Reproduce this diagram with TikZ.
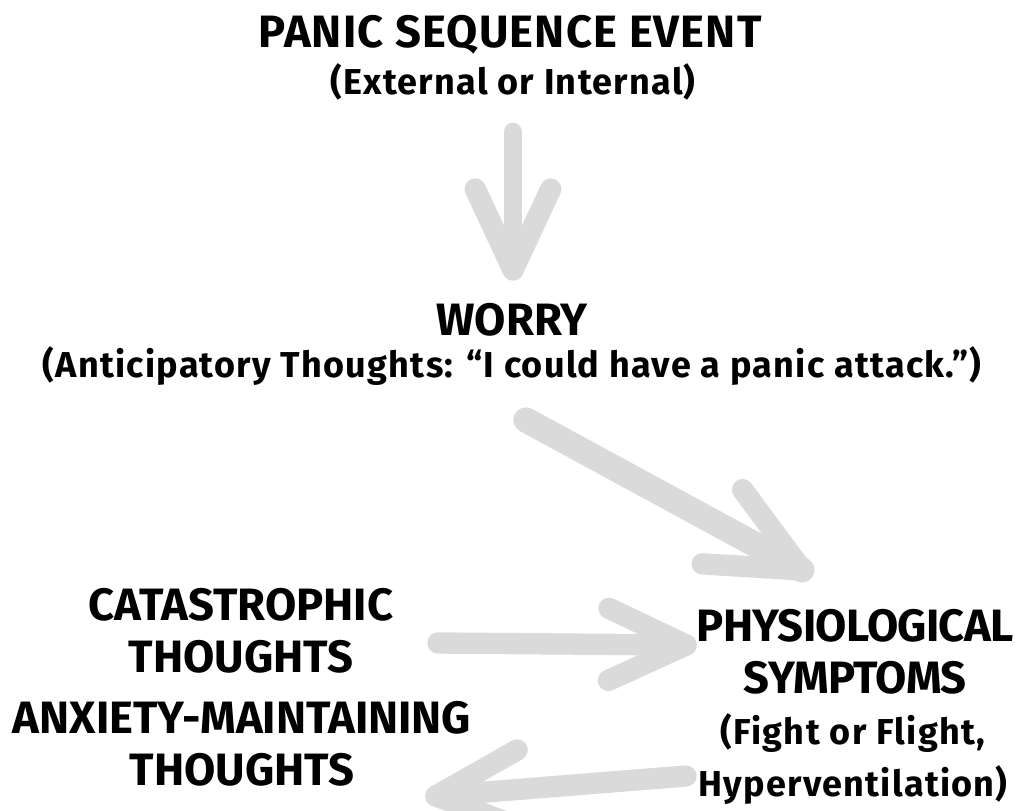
\documentclass[tikz,border=0pt]{standalone}
\usepackage{fontspec}
\setmainfont{Fira Sans}
\newfontfamily\subfont{Fira Sans}[LetterSpace=3.5]
\newfontfamily\widefont{Fira Sans}[LetterSpace=2.5]
\newfontfamily\tightfont{Fira Sans}[LetterSpace=-1.5]
\usetikzlibrary{calc}
\definecolor{arrowgray}{RGB}{218,218,218}
\tikzset{
  headtxt/.style={font=\fontsize{34}{39}\selectfont\bfseries, align=center, inner sep=0pt},
  subtxt/.style={font=\subfont\fontsize{27}{39}\selectfont\bfseries, align=center, inner sep=0pt},
  garrow/.style={draw=arrowgray, line width=16pt, line cap=round, line join=round},
}
\newcommand\mybarbs[3]{\draw[garrow] ($(#2)!#3!25:(#1)$) -- (#2) -- ($(#2)!#3!-25:(#1)$);}
\begin{document}
\begin{tikzpicture}[x=0.75pt, y=-0.75pt]
\useasboundingbox (0,0) rectangle (1020,810);
% texts
\node[headtxt, font=\widefont\fontsize{34}{39}\selectfont\bfseries] (panic) at (510,35) {PANIC SEQUENCE EVENT};
\node[subtxt] (panicsub) at (513,82) {(External or Internal)};
\node[headtxt] (worry) at (512,320) {WORRY};
\node[subtxt] (worrysub) at (512,366) {(Anticipatory Thoughts: “I could have a panic attack.”)};
\node[headtxt] (cat) at (241,631) {CATASTROPHIC\\THOUGHTS};
\node[headtxt] (anx) at (242,744) {ANXIETY-MAINTAINING\\THOUGHTS};
\node[headtxt, font=\tightfont\fontsize{34}{39}\selectfont\bfseries] (phys) at (855,652) {PHYSIOLOGICAL\\SYMPTOMS};
\node[subtxt] (physsub) at (853,759) {(Fight or Flight,\\Hyperventilation)};
% arrow end points
\coordinate (a1s) at (513,132);
\coordinate (a1e) at (513,270);
\coordinate (a2s) at (526,420);
\coordinate (a2e) at (802,570);
\coordinate (a3s) at (438,643);
\coordinate (a3e) at (686,645);
\coordinate (a4s) at (686,776);
\coordinate (a4e) at (436,796);
% arrows
\draw[garrow, line width=14pt] (a1s) -- (a1e);
\begin{scope}[line width=14pt]\mybarbs{a1s}{a1e}{67pt}\end{scope}
\draw[garrow, line width=19pt] (a2s) -- (a2e);
\mybarbs{a2s}{a2e}{75pt}
\draw[garrow] (a3s) -- (a3e);
\mybarbs{a3s}{a3e}{64pt}
\draw[garrow] (a4s) -- (a4e);
\mybarbs{a4s}{a4e}{70pt}
\end{tikzpicture}
\end{document}
